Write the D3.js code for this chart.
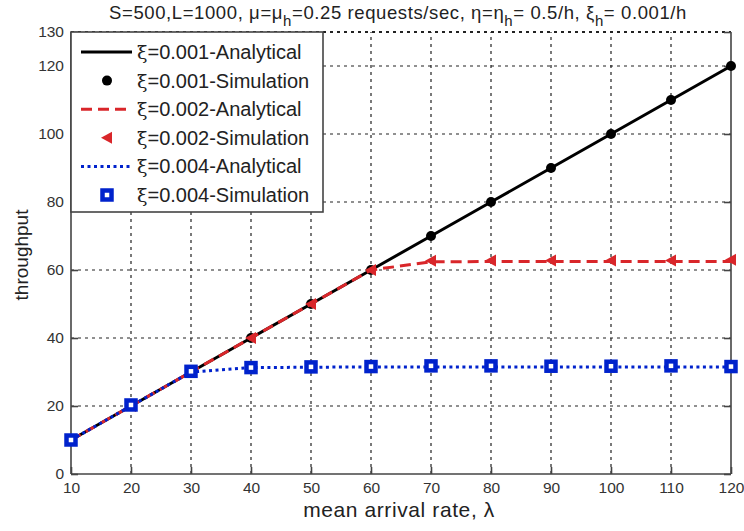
<!DOCTYPE html>
<html>
<head>
<meta charset="utf-8">
<script src="https://cdn.jsdelivr.net/npm/d3@7"></script>
<style>
  body { margin: 0; background: #fff; }
  svg { font-family: "Liberation Sans", Arial, sans-serif; }
</style>
</head>
<body>
<svg id="chart" width="744" height="531"></svg>
<script>
var lambdas = [10, 20, 30, 40, 50, 60, 70, 80, 90, 100, 110, 120]
var analytic001 = [10, 20, 30, 40, 50, 60, 70, 80, 90, 100, 110, 120]
var sim001 = [10, 20, 30, 40, 50, 60, 70, 80, 90, 100, 110, 120]
var analytic002 = [10, 20, 30, 40, 50, 60, 62.4, 62.5, 62.5, 62.5, 62.5, 62.5]
var sim002 = [10, 20, 30, 40, 50, 60, 62.7, 62.8, 62.8, 62.8, 62.8, 63]
var analytic004 = [10, 20, 30, 31.3, 31.4, 31.5, 31.5, 31.5, 31.5, 31.5, 31.5, 31.5]
var sim004 = [10, 20.3, 30.2, 31.3, 31.5, 31.6, 31.8, 31.8, 31.7, 31.7, 31.8, 31.6]
var yTicks = [0, 20, 40, 60, 80, 100, 120, 130]
var legendLabels = ["=0.001-Analytical", "=0.001-Simulation", "=0.002-Analytical",
                    "=0.002-Simulation", "=0.004-Analytical", "=0.004-Simulation"]

var svg = d3.select("#chart")
var dimensions = {
    width: 744,
    height: 531,
    margin: { top: 32, bottom: 57, left: 71, right: 13 }
}

var xScale = d3.scaleLinear()
               .domain([10, 120])
               .range([dimensions.margin.left, dimensions.width - dimensions.margin.right])
var yScale = d3.scaleLinear()
               .domain([0, 130])
               .range([dimensions.height - dimensions.margin.bottom, dimensions.margin.top])

var x0 = xScale.range()[0], x1 = xScale.range()[1]
var y0 = yScale.range()[0], y1 = yScale.range()[1]

// grid
var grid = svg.append("g")
grid.selectAll(".vgrid")
    .data(lambdas.slice(1, -1))
    .enter().append("line")
    .attr("x1", d => xScale(d)).attr("x2", d => xScale(d))
    .attr("y1", y0).attr("y2", y1)
    .attr("stroke", "#222").attr("stroke-width", 1.2).attr("stroke-dasharray", "3,4")
grid.selectAll(".hgrid")
    .data(yTicks.slice(1))
    .enter().append("line")
    .attr("x1", x0).attr("x2", x1)
    .attr("y1", d => yScale(d)).attr("y2", d => yScale(d))
    .attr("stroke", "#222").attr("stroke-width", d => d === 130 ? 2 : 1.2).attr("stroke-dasharray", "3,4")

// axes frame
var frame = svg.append("g").attr("stroke", "#444").attr("stroke-width", 1.6)
frame.append("line").attr("x1", x0).attr("x2", x0).attr("y1", y0).attr("y2", y1)
frame.append("line").attr("x1", x0).attr("x2", x1).attr("y1", y0).attr("y2", y0)
frame.append("line").attr("x1", x1).attr("x2", x1).attr("y1", y0).attr("y2", y1)

var xAxisGen = d3.axisBottom(xScale).tickValues(lambdas).tickSizeInner(-7).tickSizeOuter(0).tickPadding(8)
var xAxis = svg.append("g")
               .attr("transform", `translate(0,${y0})`)
               .call(xAxisGen)
xAxis.select(".domain").remove()

var yAxisGen = d3.axisLeft(yScale).tickValues(yTicks).tickSizeInner(-7).tickSizeOuter(0).tickPadding(7)
var yAxis = svg.append("g")
               .attr("transform", `translate(${x0},0)`)
               .call(yAxisGen)
yAxis.select(".domain").remove()

var yAxisRight = svg.append("g")
                    .attr("transform", `translate(${x1},0)`)
                    .call(d3.axisRight(yScale).tickValues(yTicks).tickSizeInner(-7).tickSizeOuter(0).tickFormat(""))
yAxisRight.select(".domain").remove()

svg.selectAll(".tick line").attr("stroke", "#444").attr("stroke-width", 1.6)
svg.selectAll(".tick text").attr("font-size", 15.5).attr("fill", "#333")
   .attr("font-family", "Liberation Sans, Arial, sans-serif")

// series
var lineGen = ys => d3.line().x((d, i) => xScale(lambdas[i])).y(d => yScale(d))(ys)

var series = [
    { line: analytic001, sim: sim001, color: "#000", dash: null, marker: "dot" },
    { line: analytic002, sim: sim002, color: "#d9262a", dash: "11,6", marker: "tri" },
    { line: analytic004, sim: sim004, color: "#0022cc", dash: "3,3.5", marker: "sq" }
]

function drawMarker(g, type, x, y, color) {
    if (type === "dot") {
        g.append("circle").attr("cx", x).attr("cy", y).attr("r", 5).attr("fill", color)
    } else if (type === "tri") {
        g.append("path")
         .attr("d", `M${x - 6},${y} L${x + 5},${y - 6} L${x + 5},${y + 6} Z`)
         .attr("fill", color)
    } else {
        g.append("rect").attr("x", x - 4.5).attr("y", y - 4.5).attr("width", 9).attr("height", 9)
         .attr("fill", "#fff").attr("stroke", color).attr("stroke-width", 4.5)
    }
}

var marks = svg.append("g")
series.forEach(s => {
    marks.append("path")
         .attr("d", lineGen(s.line))
         .attr("fill", "none")
         .attr("stroke", s.color)
         .attr("stroke-width", 3)
         .attr("stroke-dasharray", s.dash)
    s.sim.forEach((v, i) => drawMarker(marks, s.marker, xScale(lambdas[i]), yScale(v), s.color))
})

// legend
var legend = svg.append("g")
legend.append("rect")
      .attr("x", x0).attr("y", y1).attr("width", 252).attr("height", 180)
      .attr("fill", "#fff").attr("stroke", "#444").attr("stroke-width", 1.6)
legendLabels.forEach((label, i) => {
    var s = series[Math.floor(i / 2)]
    var ly = 52 + i * 28.6
    if (i % 2 === 0) {
        legend.append("line")
              .attr("x1", 81).attr("x2", 132).attr("y1", ly).attr("y2", ly)
              .attr("stroke", s.color).attr("stroke-width", 3)
              .attr("stroke-dasharray", s.dash)
    } else {
        drawMarker(legend, s.marker, 107, ly, s.color)
    }
    var t = legend.append("text")
          .attr("x", 137).attr("y", ly + 7)
          .attr("font-size", 20).attr("fill", "#222")
    t.append("tspan").attr("font-family", "DejaVu Serif, serif").attr("font-size", 19).text("ξ")
    t.append("tspan").text(label)
})

// title
var title = svg.append("text")
               .attr("x", 398).attr("y", 19)
               .attr("text-anchor", "middle")
               .attr("font-size", 18.5).attr("fill", "#222")
               .attr("letter-spacing", 0.6)
var titleParts = [["S=500,L=1000, μ=μ", false], ["h", true], ["=0.25 requests/sec, η=η", false],
                  ["h", true], ["= 0.5/h, ξ", false], ["h", true], ["= 0.001/h", false]]
titleParts.forEach(p => {
    title.append("tspan")
         .attr("baseline-shift", p[1] ? "-45%" : null)
         .attr("font-size", p[1] ? 15 : 18.5)
         .text(p[0])
})

// axis labels
svg.append("text")
   .attr("x", 399).attr("y", 517)
   .attr("text-anchor", "middle").attr("font-size", 21).attr("fill", "#222")
   .attr("letter-spacing", 0.6)
   .text("mean arrival rate, λ")
svg.append("text")
   .attr("transform", `rotate(-90, 28, 255)`)
   .attr("x", 28).attr("y", 255)
   .attr("text-anchor", "middle").attr("font-size", 19).attr("fill", "#222")
   .text("throughput")
</script>
</body>
</html>
